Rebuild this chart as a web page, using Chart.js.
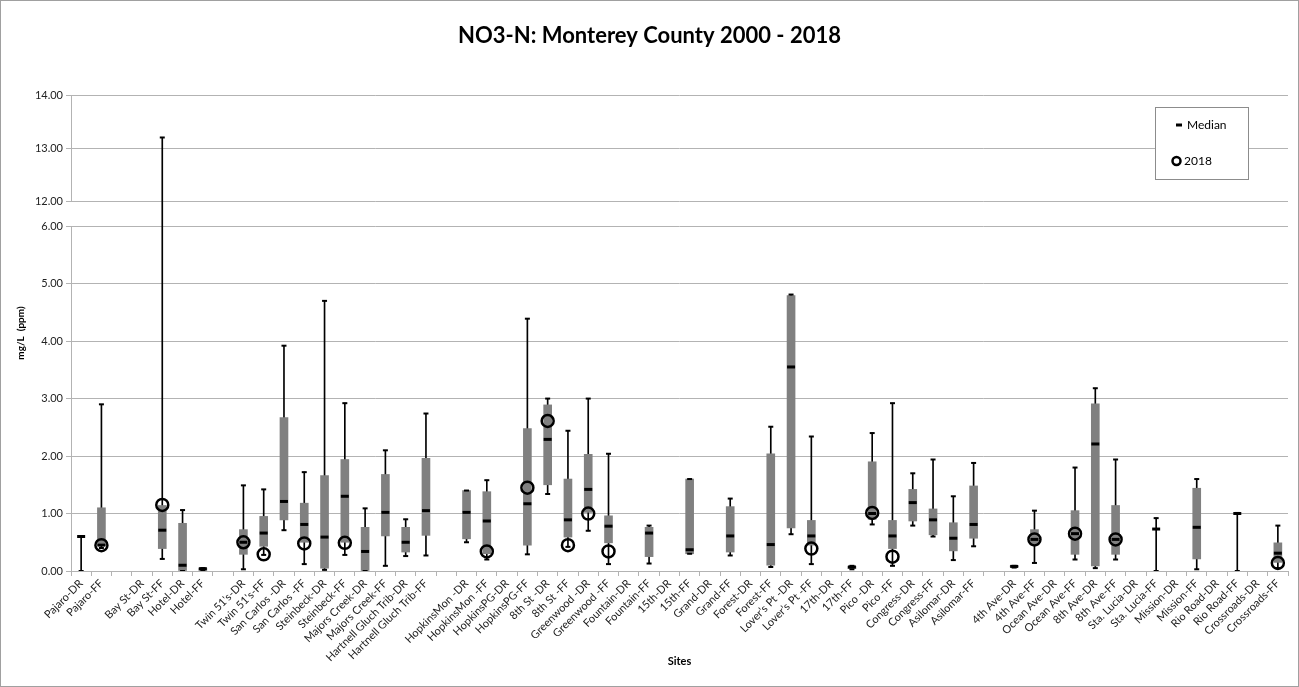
<!DOCTYPE html>
<html>
<head>
<meta charset="utf-8">
<title>NO3-N: Monterey County 2000 - 2018</title>
<script src="https://cdn.jsdelivr.net/npm/chart.js@4.4.1/dist/chart.umd.min.js"></script>
<style>
    html, body { margin: 0; padding: 0; background: #fff; }
    #myChart { display: block; }
</style>
</head>
<body>
<canvas id="myChart" width="1299" height="687"></canvas>
<script>
// Sites (empty strings are the gaps between site groups)
const sites = [
    'Pajaro-DR', 'Pajaro-FF', '', 'Bay St-DR', 'Bay St-FF', 'Hotel-DR', 'Hotel-FF', '',
    "Twin 51's-DR", "Twin 51's-FF", 'San Carlos -DR', 'San Carlos -FF', 'Steinbeck-DR', 'Steinbeck-FF',
    'Majors Creek-DR', 'Majors Creek-FF', 'Hartnell Gluch Trib-DR', 'Hartnell Gluch Trib-FF', '',
    'HopkinsMon -DR', 'HopkinsMon -FF', 'HopkinsPG-DR', 'HopkinsPG-FF', '8th St -DR', '8th St -FF',
    'Greenwood -DR', 'Greenwood -FF', 'Fountain-DR', 'Fountain-FF', '15th-DR', '15th-FF',
    'Grand-DR', 'Grand-FF', 'Forest-DR', 'Forest-FF', 'Lover\u2019s Pt -DR', 'Lover\u2019s Pt -FF',
    '17th-DR', '17th-FF', 'Pico -DR', 'Pico -FF', 'Congress-DR', 'Congress-FF', 'Asilomar-DR', 'Asilomar-FF', '',
    '4th Ave-DR', '4th Ave-FF', 'Ocean Ave-DR', 'Ocean Ave-FF', '8th Ave-DR', '8th Ave-FF',
    'Sta. Lucia-DR', 'Sta. Lucia-FF', 'Mission-DR', 'Mission-FF', 'Rio Road-DR', 'Rio Road-FF',
    'Crossroads-DR', 'Crossroads-FF'
];

// mg/L values read per site, 2000 - 2018
const minVals = [
    0.00, 0.40, null, null, 0.21, 0.00, 0.00, null,
    0.03, 0.28, 0.71, 0.12, 0.02, 0.28, 0.00, 0.09, 0.26, 0.27, null,
    0.50, 0.20, null, 0.29, 1.34, 0.42, 0.70, 0.12, null, 0.13, null, 0.30,
    null, 0.27, null, 0.07, 0.64, 0.12, null, 0.03, 0.81, 0.09, 0.79, 0.60, 0.19, 0.43, null,
    0.06, 0.14, null, 0.20, 0.05, 0.20, null, 0.00, null, 0.03, null, 0.00, null, 0.05
];
const q1Vals = [
    null, 0.44, null, null, 0.39, 0.00, 0.01, null,
    0.29, 0.43, 0.89, 0.50, 0.05, 0.50, 0.00, 0.61, 0.33, 0.62, null,
    0.56, 0.30, null, 0.45, 1.50, 0.59, 1.02, 0.49, null, 0.25, null, 0.30,
    null, 0.33, null, 0.10, 0.75, 0.45, null, 0.04, 0.90, 0.39, 0.87, 0.63, 0.35, 0.57, null,
    0.07, 0.45, null, 0.29, 0.09, 0.29, null, null, null, 0.21, null, null, null, 0.15
];
const medianVals = [
    0.60, 0.45, null, null, 0.71, 0.10, 0.04, null,
    0.50, 0.66, 1.21, 0.81, 0.59, 1.30, 0.34, 1.02, 0.50, 1.05, null,
    1.02, 0.87, null, 1.17, 2.29, 0.89, 1.42, 0.78, null, 0.66, null, 0.37,
    null, 0.61, null, 0.46, 3.55, 0.61, null, 0.07, 1.00, 0.61, 1.19, 0.89, 0.57, 0.81, null,
    0.08, 0.55, null, 0.65, 2.21, 0.55, null, 0.73, null, 0.76, null, 1.00, null, 0.31
];
const q3Vals = [
    null, 1.10, null, null, 1.14, 0.83, 0.05, null,
    0.72, 0.95, 2.67, 1.18, 1.66, 1.94, 0.76, 1.68, 0.76, 1.96, null,
    1.40, 1.38, null, 2.48, 2.89, 1.60, 2.03, 0.96, null, 0.76, null, 1.60,
    null, 1.12, null, 2.04, 4.79, 0.88, null, 0.08, 1.90, 0.88, 1.42, 1.08, 0.84, 1.48, null,
    0.09, 0.72, null, 1.05, 2.91, 1.14, null, null, null, 1.44, null, null, null, 0.49
];
const maxVals = [
    0.60, 2.90, null, null, 13.20, 1.06, 0.05, null,
    1.49, 1.42, 3.92, 1.72, 4.70, 2.92, 1.09, 2.10, 0.90, 2.74, null,
    1.40, 1.58, null, 4.39, 3.00, 2.44, 3.00, 2.04, null, 0.79, null, 1.60,
    null, 1.26, null, 2.51, 4.81, 2.34, null, 0.09, 2.40, 2.92, 1.70, 1.94, 1.30, 1.88, null,
    0.09, 1.05, null, 1.80, 3.18, 1.94, null, 0.92, null, 1.60, null, 1.01, null, 0.79
];
const year2018Vals = [
    null, 0.45, null, null, 1.15, null, null, null,
    0.50, 0.29, null, 0.48, null, 0.49, null, null, null, null, null,
    null, 0.34, null, 1.45, 2.61, 0.45, 1.00, 0.34, null, null, null, null,
    null, null, null, null, null, 0.39, null, null, 1.01, 0.25, null, null, null, null, null,
    null, 0.55, null, 0.65, null, 0.55, null, null, null, null, null, null, null, 0.14
];

const yTickValues = [0, 1, 2, 3, 4, 5, 6, 12, 13, 14];

// Broken y axis: 0-6 at full scale, a gap, then 12-14 a bit tighter
const breakLow = 6;
const breakHigh = 12;
const gapUnits = 0.434;
const upperScale = 0.924;
const toAxis = (v) => {
    if (v === null) return null;
    return v <= breakLow ? v : breakLow + gapUnits + (v - breakHigh) * upperScale;
};
const range = (lo, hi) => lo.map((v, i) => (v === null || hi[i] === null) ? null : [toAxis(v), toAxis(hi[i])]);

const FONT = "Lato, 'Liberation Sans', sans-serif";
const GRID = '#b3b3b3';

// White background, outer frame, broken axis line and the boxed legend
const chartFrame = {
    id: 'chartFrame',
    beforeDraw(chart) {
        const ctx = chart.ctx;
        ctx.save();
        ctx.fillStyle = '#fff';
        ctx.fillRect(0, 0, chart.width, chart.height);
        ctx.restore();
    },
    beforeDatasetsDraw(chart) {
        const ctx = chart.ctx;
        const y = chart.scales.y;
        const x = Math.round(chart.chartArea.left) + 0.5;
        ctx.save();
        ctx.strokeStyle = GRID;
        ctx.lineWidth = 1;
        ctx.beginPath();
        ctx.moveTo(x, y.getPixelForValue(0));
        ctx.lineTo(x, y.getPixelForValue(toAxis(breakLow)));
        ctx.moveTo(x, y.getPixelForValue(toAxis(breakHigh)));
        ctx.lineTo(x, y.getPixelForValue(toAxis(14)));
        ctx.stroke();
        ctx.restore();
    },
    afterDraw(chart) {
        const ctx = chart.ctx;
        ctx.save();
        ctx.strokeStyle = '#a0a0a0';
        ctx.lineWidth = 1;
        ctx.strokeRect(0.5, 0.5, chart.width - 1, chart.height - 1);

        // legend box
        const bx = 1155.5, by = 107.5, bw = 93, bh = 72;
        ctx.fillStyle = '#fff';
        ctx.fillRect(bx, by, bw, bh);
        ctx.strokeStyle = '#8c8c8c';
        ctx.strokeRect(bx, by, bw, bh);

        const medianSet = chart.data.datasets.find(d => d.id === 'median');
        const yearSet = chart.data.datasets.find(d => d.id === 'y2018');

        ctx.strokeStyle = '#000';
        ctx.lineWidth = 3;
        ctx.beginPath();
        ctx.moveTo(1176, 125);
        ctx.lineTo(1182, 125);
        ctx.stroke();

        ctx.lineWidth = 2.5;
        ctx.beginPath();
        ctx.arc(1176.5, 161, 4, 0, Math.PI * 2);
        ctx.stroke();

        ctx.fillStyle = '#000';
        ctx.font = '12px ' + FONT;
        ctx.textBaseline = 'middle';
        ctx.fillText(medianSet.label, 1187, 125);
        ctx.fillText(yearSet.label, 1184, 161);
        ctx.restore();
    }
};

document.addEventListener('DOMContentLoaded', () => {
    const ctx = document.getElementById('myChart').getContext('2d');

    new Chart(ctx, {
        type: 'bar',
        data: {
            labels: sites,
            datasets: [
                {
                    id: 'whisker',
                    label: 'Range',
                    data: range(minVals, maxVals),
                    backgroundColor: '#000',
                    barThickness: 1,
                    grouped: false,
                    order: 5
                },
                {
                    id: 'box',
                    label: 'Quartiles',
                    data: range(q1Vals, q3Vals),
                    backgroundColor: '#808080',
                    barThickness: 8,
                    grouped: false,
                    order: 4
                },
                {
                    id: 'maxCap',
                    type: 'line',
                    label: 'Max',
                    data: maxVals.map(toAxis),
                    showLine: false,
                    pointStyle: 'line',
                    pointRadius: 2.5,
                    pointBorderWidth: 2,
                    borderColor: '#000',
                    order: 3
                },
                {
                    id: 'minCap',
                    type: 'line',
                    label: 'Min',
                    data: minVals.map(toAxis),
                    showLine: false,
                    pointStyle: 'line',
                    pointRadius: 2.5,
                    pointBorderWidth: 2,
                    borderColor: '#000',
                    order: 3
                },
                {
                    id: 'y2018',
                    type: 'line',
                    label: '2018',
                    data: year2018Vals.map(toAxis),
                    showLine: false,
                    pointStyle: 'circle',
                    pointRadius: 6,
                    pointBorderWidth: 2.5,
                    borderColor: '#000',
                    pointBackgroundColor: 'rgba(0,0,0,0)',
                    order: 2
                },
                {
                    id: 'median',
                    type: 'line',
                    label: 'Median',
                    data: medianVals.map(toAxis),
                    showLine: false,
                    pointStyle: 'line',
                    pointRadius: 4,
                    pointBorderWidth: 3,
                    borderColor: '#000',
                    order: 1
                }
            ]
        },
        options: {
            responsive: false,
            animation: false,
            events: [],
            layout: {
                padding: { left: 11, right: 11, top: 0, bottom: 15 }
            },
            plugins: {
                legend: { display: false },
                tooltip: { enabled: false },
                title: {
                    display: true,
                    text: 'NO3-N: Monterey County 2000 - 2018',
                    color: '#000',
                    font: { family: FONT, size: 22, weight: 'bold', lineHeight: 1.2 },
                    padding: { top: 23, bottom: 45.6 }
                }
            },
            scales: {
                x: {
                    type: 'category',
                    offset: true,
                    grid: { offset: true, drawOnChartArea: false, drawTicks: true, tickLength: 5, color: GRID },
                    border: { display: true, color: GRID },
                    ticks: {
                        autoSkip: false,
                        minRotation: 45,
                        maxRotation: 45,
                        padding: 1,
                        color: '#222',
                        font: { family: FONT, size: 11 }
                    },
                    title: {
                        display: true,
                        text: 'Sites',
                        color: '#000',
                        font: { family: FONT, size: 11, weight: 'bold' }
                    },
                    afterFit: (scale) => { scale.height = 101; }
                },
                y: {
                    min: 0,
                    max: toAxis(14),
                    afterBuildTicks: (scale) => {
                        scale.ticks = yTickValues.map(v => ({ value: toAxis(v) }));
                    },
                    ticks: {
                        padding: 3,
                        color: '#222',
                        font: { family: FONT, size: 11 },
                        callback: (value, index) => yTickValues[index].toFixed(2)
                    },
                    grid: { color: GRID, tickLength: 5 },
                    border: { display: false },
                    title: {
                        display: true,
                        text: 'mg/L  (ppm)',
                        color: '#000',
                        font: { family: FONT, size: 10, weight: 'bold' }
                    },
                    afterFit: (scale) => { scale.width = 60; }
                }
            }
        },
        plugins: [chartFrame]
    });
});
</script>
</body>
</html>
